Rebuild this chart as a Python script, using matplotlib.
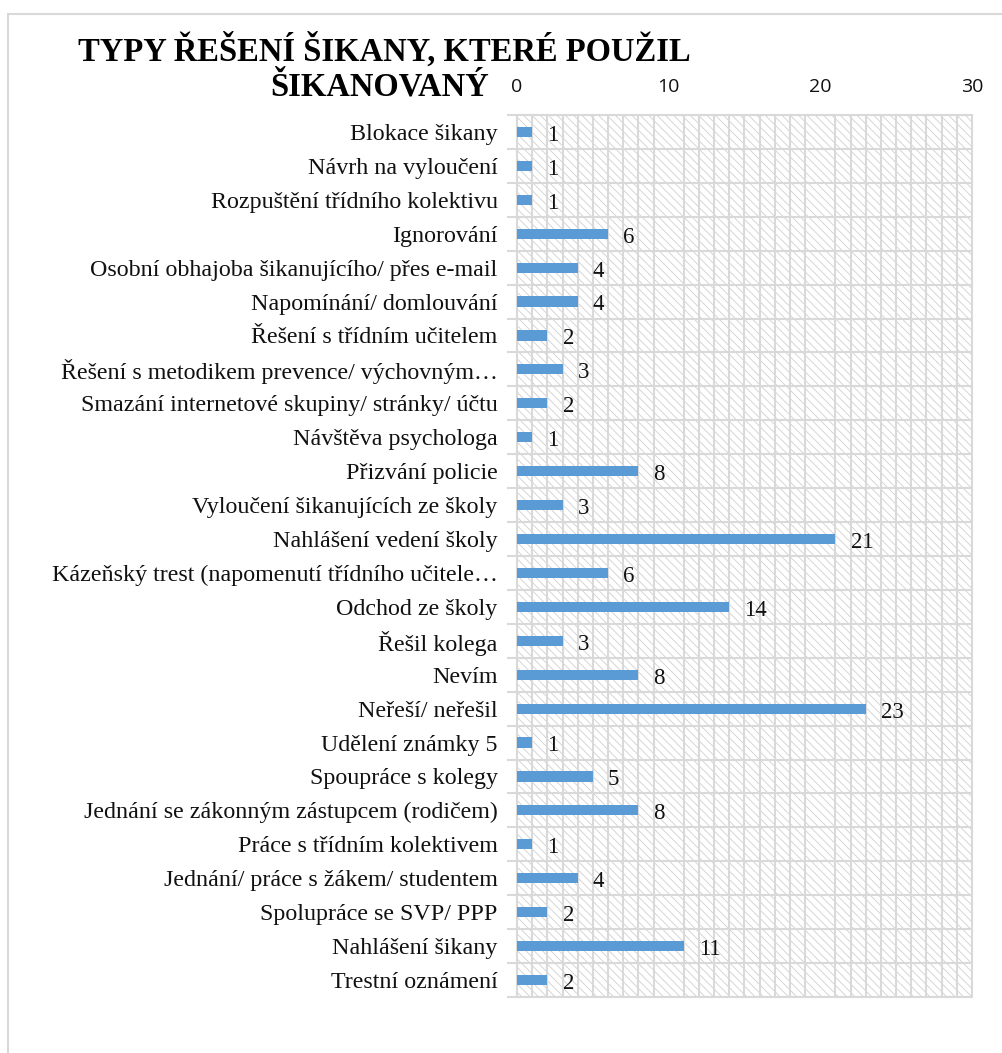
import numpy as np
import matplotlib

matplotlib.use("Agg")
import matplotlib.pyplot as plt
from matplotlib.patches import Rectangle

BAR_COLOR = "#5b9bd5"
GRID_COLOR = "#d9d9d9"
HATCH_COLOR = "#cfcfcf"
TEXT_COLOR = "#111111"

categories = [
    "Blokace šikany",
    "Návrh na vyloučení",
    "Rozpuštění třídního kolektivu",
    "Ignorování",
    "Osobní obhajoba šikanujícího/ přes e-mail",
    "Napomínání/ domlouvání",
    "Řešení s třídním učitelem",
    "Řešení s metodikem prevence/ výchovným…",
    "Smazání internetové skupiny/ stránky/ účtu",
    "Návštěva psychologa",
    "Přizvání policie",
    "Vyloučení šikanujících ze školy",
    "Nahlášení vedení školy",
    "Kázeňský trest (napomenutí třídního učitele…",
    "Odchod ze školy",
    "Řešil kolega",
    "Nevím",
    "Neřeší/ neřešil",
    "Udělení známky 5",
    "Spoupráce s kolegy",
    "Jednání se zákonným zástupcem (rodičem)",
    "Práce s třídním kolektivem",
    "Jednání/ práce s žákem/ studentem",
    "Spolupráce se SVP/ PPP",
    "Nahlášení šikany",
    "Trestní oznámení",
]
values = [1, 1, 1, 6, 4, 4, 2, 3, 2, 1, 8, 3, 21, 6, 14, 3, 8, 23, 1, 5, 8, 1, 4, 2, 11, 2]
x_ticks = [0, 10, 20, 30]

plt.rcParams["hatch.linewidth"] = 0.6
plt.rcParams["hatch.color"] = HATCH_COLOR

fig = plt.figure(figsize=(10.02, 10.53), dpi=100)
fig.patches.append(
    Rectangle((0.008, -0.1), 1.1, 1.087, transform=fig.transFigure,
              fill=False, edgecolor=GRID_COLOR, linewidth=1.5)
)

ax = fig.add_axes([0.516, 0.0532, 0.454, 0.8376])
y = np.arange(len(categories))

ax.add_patch(Rectangle((0, 0), 1, 1, transform=ax.transAxes, facecolor="white",
                       edgecolor=HATCH_COLOR, hatch="\\\\\\\\", linewidth=0, zorder=0))

ax.barh(y, values, height=0.3, color=BAR_COLOR, zorder=3)
for yi, v in zip(y, values):
    ax.text(v + 1.0, yi + 0.1, str(v), va="center", ha="left", fontsize=16.5,
            family="Liberation Serif", color=TEXT_COLOR, zorder=4)

ax.set_xlim(0, 30)
ax.set_ylim(len(categories) - 0.5, -0.5)

ax.set_xticks(x_ticks)
ax.set_xticklabels([str(t) for t in x_ticks], family="Open Sans", fontsize=14, color=TEXT_COLOR)
ax.set_xticks(np.arange(0, 31, 1), minor=True)
ax.xaxis.tick_top()
ax.tick_params(axis="x", which="both", length=0, pad=14)

ax.set_yticks(y)
ax.set_yticklabels(categories, family="Liberation Serif", fontsize=17.3, color=TEXT_COLOR)
ax.set_yticks(np.arange(-0.5, len(categories), 1), minor=True)
ax.tick_params(axis="y", which="major", length=0, pad=14)
ax.tick_params(axis="y", which="minor", length=7, width=1.5, color=GRID_COLOR)

ax.grid(True, which="minor", color=GRID_COLOR, linewidth=1.5, zorder=1)
ax.set_axisbelow(True)
for spine in ax.spines.values():
    spine.set_color(GRID_COLOR)
    spine.set_linewidth(1.5)

fig.text(0.384, 0.952, "TYPY ŘEŠENÍ ŠIKANY, KTERÉ POUŽIL", ha="center", va="center",
         family="Liberation Serif", fontweight="bold", fontsize=23.5, color="black")
fig.text(0.379, 0.917, "ŠIKANOVANÝ", ha="center", va="center",
         family="Liberation Serif", fontweight="bold", fontsize=23.5, color="black")

fig.savefig("out.png", dpi=100)
